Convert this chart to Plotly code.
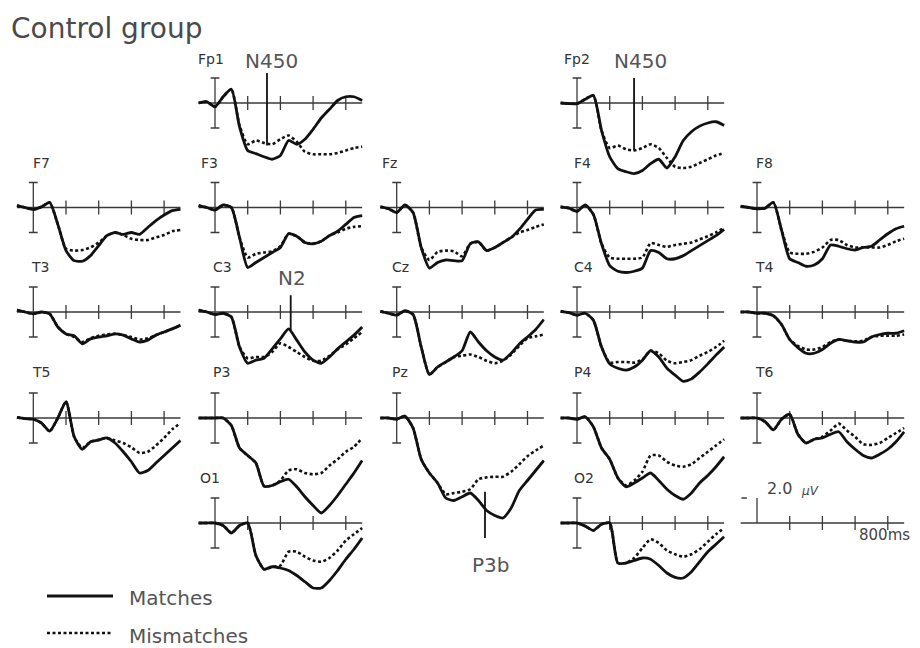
import plotly.graph_objects as go

# ---------------- data (µV, positive plotted downward) ----------------
TIME_MS = [-100, -50, 0, 50, 100, 150, 200, 250, 300, 350, 400,
           450, 500, 550, 600, 650, 700, 750, 800, 850, 900]

FP1_MATCH = [0, -0.1, 0.3, -0.5, -1.1, 1.9, 3.8, 4.05, 4.3, 4.5, 4.2, 3.0, 3.3, 2.9, 2.1, 1.2, 0.5, -0.2, -0.5, -0.5, -0.2]
FP1_MISMATCH = [0, -0.1, 0.3, -0.5, -1.1, 1.8, 3.3, 3.0, 3.2, 3.3, 2.9, 2.6, 3.1, 3.9, 4.1, 4.1, 4.1, 4.0, 3.8, 3.6, 3.5]
FP2_MATCH = [0, 0.05, 0.05, -0.3, -0.6, 2.2, 4.3, 5.25, 5.5, 5.65, 5.4, 4.85, 4.5, 5.2, 4.3, 3.0, 2.3, 1.85, 1.6, 1.5, 1.8]
FP2_MISMATCH = [0, 0.05, 0.05, -0.3, -0.6, 2.2, 3.6, 3.4, 3.7, 3.8, 3.6, 3.3, 3.6, 4.4, 5.1, 5.2, 5.1, 4.8, 4.5, 4.2, 4.0]
F7_MATCH = [-0.15, 0, 0.15, -0.05, -0.4, 1.35, 3.45, 4.25, 4.3, 3.85, 3.05, 2.25, 2.0, 2.15, 2.0, 2.15, 1.6, 1.05, 0.6, 0.25, 0.15]
F7_MISMATCH = [-0.15, 0, 0.15, -0.05, -0.4, 1.35, 3.3, 3.45, 3.4, 3.2, 2.8, 2.25, 2.0, 2.2, 2.5, 2.6, 2.6, 2.4, 2.2, 1.9, 1.8]
F3_MATCH = [-0.15, 0, 0.2, -0.2, 0, 2.4, 4.8, 4.4, 4.0, 3.6, 3.2, 2.1, 2.3, 2.8, 2.9, 2.7, 2.25, 1.9, 1.35, 0.8, 0.65]
F3_MISMATCH = [-0.15, 0, 0.2, -0.2, 0, 2.4, 4.0, 3.7, 3.6, 3.5, 3.1, 2.1, 2.3, 2.8, 2.9, 2.7, 2.25, 2.0, 1.7, 1.55, 1.5]
FZ_MATCH = [-0.05, 0.1, 0.4, -0.2, 0.4, 3.2, 4.85, 4.4, 4.2, 4.25, 4.25, 2.9, 2.75, 3.45, 3.2, 2.8, 2.4, 1.75, 0.95, 0.2, 0.15]
FZ_MISMATCH = [-0.05, 0.1, 0.4, -0.2, 0.4, 3.2, 4.2, 3.55, 3.45, 3.5, 3.9, 2.9, 2.75, 3.45, 3.2, 2.8, 2.4, 2.0, 1.8, 1.55, 1.35]
F4_MATCH = [-0.05, 0.05, 0.3, -0.2, 0.55, 2.9, 4.65, 5.1, 5.2, 5.1, 4.85, 3.45, 3.6, 4.1, 4.1, 3.85, 3.45, 3.05, 2.65, 2.25, 1.75]
F4_MISMATCH = [-0.05, 0.05, 0.3, -0.2, 0.55, 2.9, 4.0, 4.1, 4.1, 4.1, 4.0, 2.85, 3.0, 3.15, 3.0, 2.9, 2.8, 2.55, 2.3, 2.0, 1.6]
F8_MATCH = [-0.1, 0, 0.1, 0.05, -0.4, 1.8, 4.1, 4.4, 4.7, 4.6, 4.1, 3.0, 3.1, 3.3, 3.4, 3.2, 3.1, 2.6, 2.1, 1.7, 1.5]
F8_MISMATCH = [-0.1, 0, 0.1, 0.05, -0.4, 1.8, 3.6, 3.7, 3.7, 3.55, 3.2, 2.6, 2.6, 3.0, 3.2, 3.2, 3.2, 3.2, 3.0, 2.7, 2.5]
T3_MATCH = [-0.15, 0, 0.15, 0, 0.15, 1.2, 1.75, 1.9, 2.55, 2.15, 2.0, 1.9, 1.75, 1.85, 2.15, 2.4, 2.25, 1.85, 1.6, 1.35, 1.05]
T3_MISMATCH = [-0.15, 0, 0.15, 0, 0.15, 1.2, 1.75, 2.0, 2.4, 2.1, 1.9, 1.8, 1.75, 1.85, 2.0, 2.2, 2.1, 1.85, 1.6, 1.35, 1.05]
C3_MATCH = [-0.15, 0, 0.2, 0.1, 0.4, 2.8, 4.1, 3.85, 3.7, 2.95, 2.15, 1.35, 2.25, 3.2, 3.85, 4.1, 3.6, 2.95, 2.4, 1.85, 1.2]
C3_MISMATCH = [-0.15, 0, 0.2, 0.1, 0.4, 2.8, 3.7, 3.6, 3.6, 3.2, 2.5, 2.8, 3.2, 3.6, 3.9, 3.9, 3.5, 3.0, 2.6, 2.1, 1.6]
CZ_MATCH = [-0.05, 0.1, 0.25, -0.1, 0.2, 2.8, 5.0, 4.4, 4.0, 3.6, 3.1, 1.6, 2.4, 3.1, 3.6, 3.85, 3.3, 2.55, 2.0, 1.4, 0.6]
CZ_MISMATCH = [-0.05, 0.1, 0.25, -0.1, 0.2, 2.8, 5.0, 4.4, 4.0, 3.6, 3.5, 3.4, 3.6, 3.9, 4.1, 3.9, 3.4, 2.7, 2.1, 1.95, 1.8]
C4_MATCH = [-0.05, 0.05, 0.25, 0.1, 0.65, 2.8, 4.15, 4.5, 4.65, 4.4, 3.85, 3.1, 3.6, 4.5, 5.05, 5.55, 5.35, 4.8, 4.15, 3.45, 2.8]
C4_MISMATCH = [-0.05, 0.05, 0.25, 0.1, 0.65, 2.8, 4.05, 4.0, 4.0, 4.05, 3.8, 3.1, 3.3, 3.9, 4.1, 4.0, 3.85, 3.5, 3.2, 2.8, 2.3]
T4_MATCH = [0, 0, 0.1, 0.1, 0.3, 1.0, 2.2, 2.85, 3.3, 3.3, 3.0, 2.5, 2.2, 2.3, 2.4, 2.4, 2.0, 1.8, 1.7, 1.7, 1.5]
T4_MISMATCH = [0, 0, 0.1, 0.1, 0.3, 1.0, 2.2, 2.7, 3.0, 3.0, 2.8, 2.4, 2.2, 2.3, 2.35, 2.3, 2.0, 1.9, 1.9, 1.9, 1.8]
T5_MATCH = [-0.05, 0.05, 0.1, 0.4, 1.05, 0.0, -1.3, 1.5, 2.5, 1.9, 1.75, 1.6, 2.0, 2.7, 3.5, 4.4, 4.2, 3.6, 3.0, 2.4, 1.8]
T5_MISMATCH = [-0.05, 0.05, 0.1, 0.4, 1.05, 0.0, -1.3, 1.5, 2.4, 1.9, 1.75, 1.6, 1.8, 2.0, 2.35, 2.8, 2.7, 2.2, 1.6, 0.9, 0.4]
P3_MATCH = [0, 0, 0, 0, 0.6, 2.4, 3.0, 3.6, 5.45, 5.4, 5.1, 4.9, 5.5, 6.3, 7.0, 7.6, 7.0, 6.2, 5.3, 4.4, 3.4]
P3_MISMATCH = [0, 0, 0, 0, 0.6, 2.4, 3.0, 3.6, 5.45, 5.4, 5.0, 4.2, 4.1, 4.4, 4.5, 4.4, 3.8, 3.3, 2.7, 2.3, 1.6]
PZ_MATCH = [0, 0, 0.1, -0.15, 0.8, 3.3, 4.4, 5.2, 6.4, 6.6, 6.3, 6.0, 6.6, 7.4, 7.8, 8.0, 7.2, 5.8, 5.0, 4.2, 3.4]
PZ_MISMATCH = [0, 0, 0.1, -0.15, 0.8, 3.3, 4.4, 5.2, 6.1, 6.0, 5.9, 5.7, 4.9, 4.75, 4.7, 4.7, 4.3, 3.7, 3.05, 2.6, 2.2]
P4_MATCH = [0, 0, 0.1, -0.1, 0.7, 2.4, 3.3, 4.8, 5.5, 5.2, 4.8, 4.4, 5.0, 5.7, 6.2, 6.5, 6.0, 5.2, 4.6, 3.9, 3.1]
P4_MISMATCH = [0, 0, 0.1, -0.1, 0.7, 2.4, 3.3, 4.8, 5.4, 5.0, 4.3, 3.0, 3.0, 3.5, 3.8, 3.9, 3.7, 3.2, 2.7, 2.2, 1.7]
T6_MATCH = [0, 0, 0, 0.3, 0.95, 0.1, -0.3, 1.3, 2.0, 1.7, 1.6, 1.3, 1.1, 1.9, 2.5, 3.0, 3.2, 2.9, 2.5, 1.9, 1.1]
T6_MISMATCH = [0, 0, 0, 0.3, 0.95, 0.1, -0.3, 1.3, 2.0, 1.7, 1.5, 1.0, 0.45, 1.0, 1.5, 2.1, 2.15, 2.0, 1.6, 1.2, 0.8]
O1_MATCH = [0, 0, 0, 0.2, 0.8, 0.2, 0.0, 2.6, 3.7, 3.5, 3.6, 3.8, 4.2, 4.7, 5.2, 5.2, 4.6, 3.8, 2.9, 2.1, 1.2]
O1_MISMATCH = [0, 0, 0, 0.2, 0.8, 0.2, 0.0, 2.6, 3.7, 3.5, 3.4, 2.3, 2.3, 2.7, 3.0, 3.1, 2.8, 2.2, 1.4, 0.9, 0.4]
O2_MATCH = [0, 0, 0, 0.25, 0.6, 0.1, 0.0, 3.2, 3.2, 3.0, 2.8, 2.9, 3.4, 4.0, 4.35, 4.4, 3.9, 3.1, 2.3, 1.7, 1.1]
O2_MISMATCH = [0, 0, 0, 0.25, 0.6, 0.1, 0.0, 3.2, 3.2, 2.8, 2.0, 1.3, 1.6, 2.2, 2.5, 2.7, 2.5, 2.1, 1.5, 0.9, 0.4]

ELECTRODES = ["Fp1", "Fp2", "F7", "F3", "Fz", "F4", "F8", "T3", "C3", "Cz", "C4", "T4",
              "T5", "P3", "Pz", "P4", "T6", "O1", "O2"]
MATCH = {"Fp1": FP1_MATCH, "Fp2": FP2_MATCH, "F7": F7_MATCH, "F3": F3_MATCH, "Fz": FZ_MATCH,
         "F4": F4_MATCH, "F8": F8_MATCH, "T3": T3_MATCH, "C3": C3_MATCH, "Cz": CZ_MATCH,
         "C4": C4_MATCH, "T4": T4_MATCH, "T5": T5_MATCH, "P3": P3_MATCH, "Pz": PZ_MATCH,
         "P4": P4_MATCH, "T6": T6_MATCH, "O1": O1_MATCH, "O2": O2_MATCH}
MISMATCH = {"Fp1": FP1_MISMATCH, "Fp2": FP2_MISMATCH, "F7": F7_MISMATCH, "F3": F3_MISMATCH,
            "Fz": FZ_MISMATCH, "F4": F4_MISMATCH, "F8": F8_MISMATCH, "T3": T3_MISMATCH,
            "C3": C3_MISMATCH, "Cz": CZ_MISMATCH, "C4": C4_MISMATCH, "T4": T4_MISMATCH,
            "T5": T5_MISMATCH, "P3": P3_MISMATCH, "Pz": PZ_MISMATCH, "P4": P4_MISMATCH,
            "T6": T6_MISMATCH, "O1": O1_MISMATCH, "O2": O2_MISMATCH}

TICKS_MS = [200, 400, 600, 800]
BAR_UV = 2.0

COMPONENT_NAMES = ["N450", "N450", "N2", "P3b"]
COMPONENT_SITES = ["Fp1", "Fp2", "C3", "Pz"]
COMPONENT_MS = [318, 349, 463, 540]
COMPONENT_FROM_UV = [-2.4, -2.0, -1.35, 5.9]
COMPONENT_TO_UV = [3.4, 3.8, 1.45, 9.6]

# ---------------- layout geometry (page pixels) ----------------
PAGE_MARGIN = 8          # browser body margin around the plot div
PAGE_W, PAGE_H = 920, 648
W, H = PAGE_W - PAGE_MARGIN, PAGE_H - PAGE_MARGIN
PX_PER_MS = 0.1635
PX_PER_UV = 12.5
COL_AXIS_PX = [33.3, 215, 396.7, 577, 757]
ROW_ZERO_PX = [103, 207.5, 312, 418, 523]
GRID = {"Fp1": (0, 1), "Fp2": (0, 3),
        "F7": (1, 0), "F3": (1, 1), "Fz": (1, 2), "F4": (1, 3), "F8": (1, 4),
        "T3": (2, 0), "C3": (2, 1), "Cz": (2, 2), "C4": (2, 3), "T4": (2, 4),
        "T5": (3, 0), "P3": (3, 1), "Pz": (3, 2), "P4": (3, 3), "T6": (3, 4),
        "O1": (4, 1), "O2": (4, 3), "scale": (4, 4)}
LABEL_POS = {"Fp1": (196, 59), "Fp2": (562, 59),
             "F7": (31, 163), "F3": (199, 163), "Fz": (380, 163), "F4": (572, 163), "F8": (754, 163),
             "T3": (29, 267), "C3": (211, 267), "Cz": (390, 267), "C4": (572, 267), "T4": (753, 267),
             "T5": (30, 372), "P3": (211, 372), "Pz": (390, 372), "P4": (572, 372), "T6": (753, 372),
             "O1": (198, 478), "O2": (572, 478)}
COMPONENT_LABEL_PX = [(271, 61), (640, 61), (292, 278), (490, 565)]
X_RANGE = [-105, 905]
Y_RANGE = [10, -3.6]

FONT = "DejaVu Sans"
INK = "#111111"
AXIS_INK = "#3a3a3a"


def px_x(p):
    return (p - PAGE_MARGIN) / W


def px_y(p):
    return 1 - (p - PAGE_MARGIN) / H


fig = go.Figure()
layout_axes = {}
panels = ELECTRODES + ["scale"]
annotations = []

for k, name in enumerate(panels, start=1):
    row, col = GRID[name]
    ax_px = COL_AXIS_PX[col]
    zero_px = ROW_ZERO_PX[row]
    s = "" if k == 1 else str(k)
    x0 = px_x(ax_px + X_RANGE[0] * PX_PER_MS)
    x1 = px_x(ax_px + X_RANGE[1] * PX_PER_MS)
    ytop = px_y(zero_px + Y_RANGE[1] * PX_PER_UV)
    ybot = px_y(zero_px + Y_RANGE[0] * PX_PER_UV)
    layout_axes["xaxis" + s] = dict(domain=[x0, x1], range=X_RANGE, visible=False,
                                    anchor="y" + s, fixedrange=True)
    layout_axes["yaxis" + s] = dict(domain=[max(0.0, ybot), min(1.0, ytop)],
                                    range=Y_RANGE, visible=False, anchor="x" + s, fixedrange=True)
    xa, ya = "x" + s, "y" + s

    # baseline
    fig.add_trace(go.Scatter(x=[TIME_MS[0], TIME_MS[-1]], y=[0, 0], mode="lines",
                             line=dict(color=AXIS_INK, width=1.3), xaxis=xa, yaxis=ya,
                             hoverinfo="skip", showlegend=False))
    # time ticks
    fig.add_trace(go.Scatter(x=TICKS_MS, y=[0] * len(TICKS_MS), mode="markers",
                             marker=dict(symbol="line-ns", size=10,
                                         line=dict(color=AXIS_INK, width=1.3)),
                             xaxis=xa, yaxis=ya, hoverinfo="skip", showlegend=False))
    if name == "scale":
        fig.add_trace(go.Scatter(x=[-95, -62, None, 0, 0], y=[-BAR_UV, -BAR_UV, None, 0, -BAR_UV],
                                 mode="lines", line=dict(color=AXIS_INK, width=1.3),
                                 xaxis=xa, yaxis=ya, hoverinfo="skip", showlegend=False))
        annotations.append(dict(text="2.0", x=50, y=-2.75, xref=xa, yref=ya, xanchor="left",
                                yanchor="middle", showarrow=False,
                                font=dict(family=FONT, size=16, color="#444")))
        annotations.append(dict(text="<i>µV</i>", x=255, y=-2.6, xref=xa, yref=ya, xanchor="left",
                                yanchor="middle", showarrow=False,
                                font=dict(family=FONT, size=12, color="#444")))
        annotations.append(dict(text="800ms", x=612, y=0.95, xref=xa, yref=ya, xanchor="left",
                                yanchor="middle", showarrow=False,
                                font=dict(family=FONT, size=15, color="#444")))
        continue

    cap = 27
    fig.add_trace(go.Scatter(x=[-cap, cap, None, 0, 0, None, -cap, cap],
                             y=[-BAR_UV, -BAR_UV, None, -BAR_UV, BAR_UV, None, BAR_UV, BAR_UV],
                             mode="lines", line=dict(color=AXIS_INK, width=1.3),
                             xaxis=xa, yaxis=ya, hoverinfo="skip", showlegend=False))
    fig.add_trace(go.Scatter(x=TIME_MS, y=MISMATCH[name], mode="lines", name="Mismatches",
                             line=dict(color=INK, width=2.6, dash="3px,2.5px", shape="spline",
                                       smoothing=0.6),
                             xaxis=xa, yaxis=ya, showlegend=False))
    fig.add_trace(go.Scatter(x=TIME_MS, y=MATCH[name], mode="lines", name="Matches",
                             line=dict(color=INK, width=2.8, shape="spline", smoothing=0.6),
                             xaxis=xa, yaxis=ya, showlegend=False))
    lx, ly = LABEL_POS[name]
    annotations.append(dict(text=name, x=px_x(lx), y=px_y(ly), xref="paper", yref="paper",
                            xanchor="left", yanchor="middle", showarrow=False,
                            font=dict(family=FONT, size=14, color="#333")))

# ERP component markers
for i, comp in enumerate(COMPONENT_NAMES):
    k = panels.index(COMPONENT_SITES[i]) + 1
    s = "" if k == 1 else str(k)
    fig.add_trace(go.Scatter(x=[COMPONENT_MS[i], COMPONENT_MS[i]],
                             y=[COMPONENT_FROM_UV[i], COMPONENT_TO_UV[i]], mode="lines",
                             line=dict(color=INK, width=1.8), xaxis="x" + s, yaxis="y" + s,
                             hoverinfo="skip", showlegend=False))
    cx, cy = COMPONENT_LABEL_PX[i]
    annotations.append(dict(text=comp, x=px_x(cx), y=px_y(cy), xref="paper", yref="paper",
                            xanchor="center", yanchor="middle", showarrow=False,
                            font=dict(family=FONT, size=20, color="#555")))

# title
annotations.append(dict(text="Control group", x=px_x(9), y=px_y(28), xref="paper", yref="paper",
                        xanchor="left", yanchor="middle", showarrow=False,
                        font=dict(family=FONT, size=28, color="#4a4a4a")))
# legend
annotations.append(dict(text="Matches", x=px_x(127), y=px_y(598), xref="paper", yref="paper",
                        xanchor="left", yanchor="middle", showarrow=False,
                        font=dict(family=FONT, size=20, color="#555")))
annotations.append(dict(text="Mismatches", x=px_x(127), y=px_y(636), xref="paper", yref="paper",
                        xanchor="left", yanchor="middle", showarrow=False,
                        font=dict(family=FONT, size=20, color="#555")))
shapes = [
    dict(type="line", xref="paper", yref="paper", x0=px_x(47), x1=px_x(113), y0=px_y(596), y1=px_y(596),
         line=dict(color=INK, width=3)),
    dict(type="line", xref="paper", yref="paper", x0=px_x(47), x1=px_x(113), y0=px_y(633), y1=px_y(633),
         line=dict(color=INK, width=2.6, dash="3px,2.5px")),
]

fig.update_layout(width=W, height=H, margin=dict(l=0, r=0, t=0, b=0),
                  paper_bgcolor="white", plot_bgcolor="rgba(0,0,0,0)",
                  showlegend=False, annotations=annotations, shapes=shapes,
                  font=dict(family=FONT), **layout_axes)

fig.write_html("out.html")
